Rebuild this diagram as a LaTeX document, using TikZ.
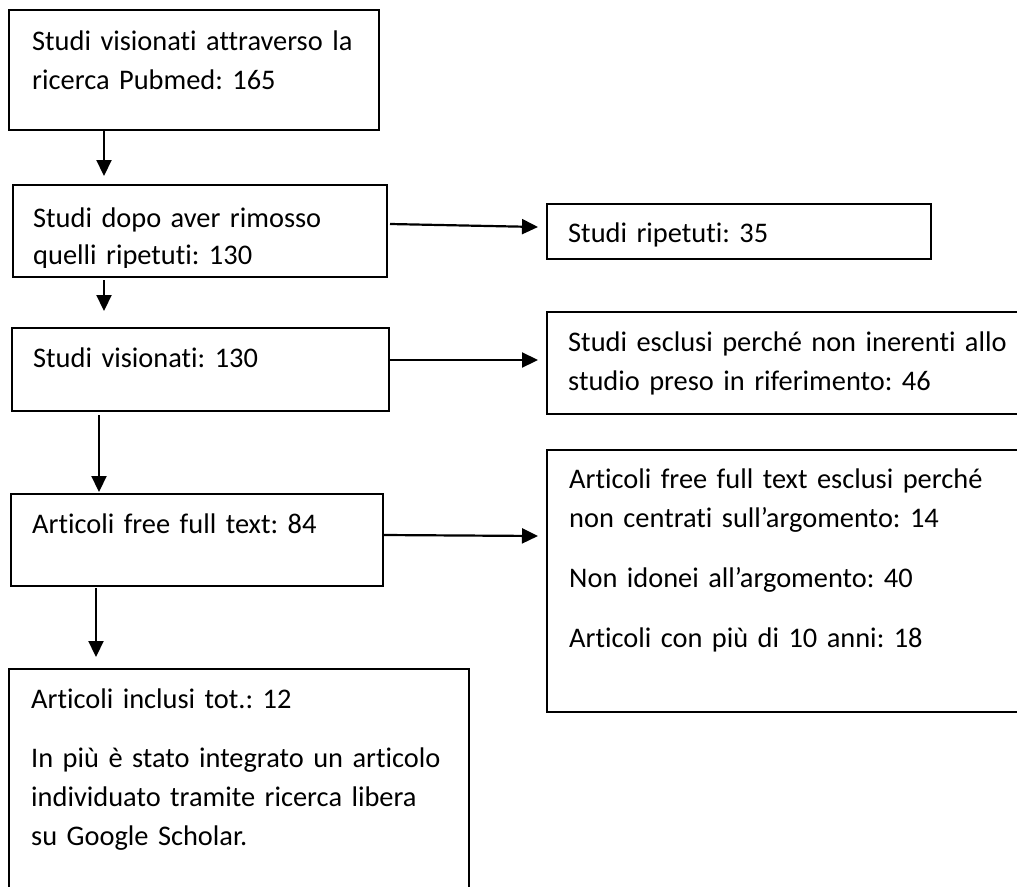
\documentclass[tikz,border=0pt]{standalone}
\usepackage{fontspec}
\setmainfont{Carlito}[Ligatures={NoCommon}]
\usetikzlibrary{arrows.meta,calc}
\begin{document}
\frenchspacing
\begin{tikzpicture}[x=1pt,y=-1pt,
  box/.style={draw=black,line width=1.6pt,inner sep=0pt,outer sep=0pt,anchor=north west},
  txt/.style={anchor=base west,inner sep=0pt,align=left,text width=#1,font=\fontsize{28.4}{39}\selectfont\frenchspacing},
  arr/.style={draw=black,line width=2.2pt,-{Triangle[length=16pt,width=15pt]}}]
\useasboundingbox (0,0) rectangle (1017,886);
% boxes
\node[box,minimum width=370pt,minimum height=120pt] (b1) at (9,10) {};
\node[box,minimum width=374pt,minimum height=92pt] (b2) at (13,185) {};
\node[box,minimum width=384pt,minimum height=55pt] (b3) at (547,204) {};
\node[box,minimum width=377pt,minimum height=83pt] (b4) at (12,328) {};
\node[box,minimum width=480pt,minimum height=102pt] (b5) at (547,312) {};
\node[box,minimum width=372pt,minimum height=92pt] (b6) at (11,494) {};
\node[box,minimum width=480pt,minimum height=262pt] (b7) at (547,450) {};
\node[box,minimum width=460pt,minimum height=240pt] (b8) at (9,669) {};
% texts
\node[txt=360pt] (t1) at (32,50) {Studi visionati attraverso la\\ricerca Pubmed: 165};
\begin{scope}
\clip (13,185) rectangle (387,267);
\node[txt=360pt] (t2) at (33,227) {Studi dopo aver rimosso\\[-2pt]quelli ripetuti: 130};
\end{scope}
\node[txt=360pt] (t3) at (568,242) {Studi ripetuti: 35};
\node[txt=360pt] (t4) at (33,367) {Studi visionati: 130};
\node[txt=460pt] (t5) at (568,351) {Studi esclusi perché non inerenti allo\\studio preso in riferimento: 46};
\node[txt=360pt] (t6) at (32,533) {Articoli free full text: 84};
\node[txt=460pt] (t7) at (569,488) {Articoli free full text esclusi perché\\non centrati sull’argomento: 14\\[21pt]Non idonei all’argomento: 40\\[21pt]Articoli con più di 10 anni: 18};
\node[txt=440pt] (t8) at (31,708) {Articoli inclusi tot.: 12\\[20pt]In più è stato integrato un articolo\\individuato tramite ricerca libera\\su Google Scholar.};
% vertical arrows
\draw[arr,shorten >=9pt] (b1.south -| 104,0) -- (b2.north -| 104,0);
\draw[arr,shorten <=3pt,shorten >=17pt] (b2.south -| 104,0) -- (b4.north -| 104,0);
\draw[arr,shorten <=4pt,shorten >=2pt] (b4.south -| 99,0) -- (b6.north -| 99,0);
\draw[arr,shorten <=2pt,shorten >=12pt] (b6.south -| 96,0) -- (b8.north -| 96,0);
% horizontal arrows
\draw[arr] ($(b2.east)+(3,-7)$) -- ($(b3.west)+(-9,-4.5)$);
\draw[arr] ($(b4.east)+(0,-9.5)$) -- ($(b5.west)+(-9,-3)$);
\draw[arr] ($(b6.east)+(0,-5)$) -- ($(b7.west)+(-9,-45)$);
\end{tikzpicture}
\end{document}
